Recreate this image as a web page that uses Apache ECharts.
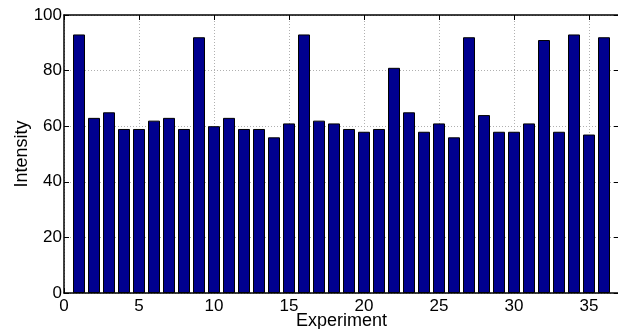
<!DOCTYPE html>
<html><head><meta charset="utf-8">
<script src="https://cdn.jsdelivr.net/npm/echarts@6/dist/echarts.min.js"></script>
<style>html,body{margin:0;padding:0;background:#fff}#c{width:618px;height:329px}</style>
</head><body><div id="c"></div>
<script>
const experiments = [1,2,3,4,5,6,7,8,9,10,11,12,13,14,15,16,17,18,19,20,21,22,23,24,25,26,27,28,29,30,31,32,33,34,35,36];
const intensity = [93,63,65,59,59,62,63,59,92,60,63,59,59,56,61,93,62,61,59,58,59,81,65,58,61,56,92,64,58,58,61,91,58,93,57,92];
const xTicks = [0,5,10,15,20,25,30,35];
const yTicks = [0,20,40,60,80,100];

const chart = echarts.init(document.getElementById('c'), null, {renderer:'canvas'});
const font = 'Liberation Sans, Arial, sans-serif';
const gridLine = {show:true, lineStyle:{color:'#b0b0b0', type:[1,2], width:1}};
chart.setOption({
  animation:false,
  grid:{left:64, right:-1, top:15, bottom:36, containLabel:false, outerBoundsMode:'none'},
  xAxis:[{
    type:'value', min:0, max:37, interval:5,
    name:'Experiment', nameLocation:'middle', nameGap:19, nameMoveOverlap:false,
    nameTextStyle:{fontFamily:font, fontSize:18, color:'#000'},
    axisLine:{show:true, onZero:false, lineStyle:{color:'#000', width:1.5}},
    axisTick:{show:true, inside:true, length:5, lineStyle:{color:'#000'}},
    axisLabel:{fontFamily:font, fontSize:17, color:'#000', margin:5,
      formatter:v=> xTicks.includes(v) ? String(v) : ''},
    splitLine:gridLine
  },{
    type:'value', min:0, max:37, interval:5, position:'top',
    axisLine:{show:true, onZero:false, lineStyle:{color:'#000', width:1.5}},
    axisTick:{show:true, inside:true, length:5, lineStyle:{color:'#000'}},
    axisLabel:{show:false}, splitLine:{show:false}
  }],
  yAxis:[{
    type:'value', min:0, max:100, interval:20,
    name:'Intensity', nameLocation:'middle', nameGap:33, nameRotate:90, nameMoveOverlap:false,
    nameTextStyle:{fontFamily:font, fontSize:18, color:'#000'},
    axisLine:{show:true, onZero:false, lineStyle:{color:'#000', width:1.5}},
    axisTick:{show:true, inside:true, length:5, lineStyle:{color:'#000'}},
    axisLabel:{fontFamily:font, fontSize:17, color:'#000', margin:2,
      formatter:v=> yTicks.includes(v) ? String(v) : ''},
    splitLine:gridLine
  },{
    type:'value', min:0, max:100, interval:20, position:'right',
    axisLine:{show:true, onZero:false, lineStyle:{color:'#000', width:1.5}},
    axisTick:{show:true, inside:true, length:5, lineStyle:{color:'#000'}},
    axisLabel:{show:false}, splitLine:{show:false}
  }],
  series:[{
    type:'bar', xAxisIndex:0, yAxisIndex:0,
    data: experiments.map((e,i)=>[e, intensity[i]]),
    barWidth:12,
    itemStyle:{color:'#00008F', borderColor:'#000', borderWidth:1}
  }]
});
</script></body></html>
